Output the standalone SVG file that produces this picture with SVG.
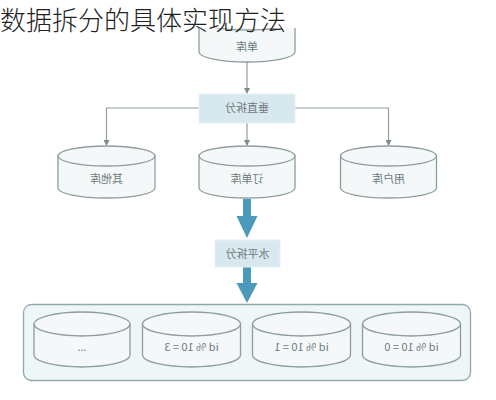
<svg xmlns="http://www.w3.org/2000/svg" width="496" height="400" viewBox="0 0 496 400">
<defs>
<style>
.cyl{fill:#f4f8f9;stroke:#8f9d9f;stroke-width:1.3}
.lbl{font-family:"Noto Sans CJK SC","Liberation Sans",sans-serif;font-size:11px;fill:#6f7a7d;text-anchor:middle}
.ln{fill:none;stroke:#8f9d9f;stroke-width:1.2}
.thick{fill:#4b9aba}
.box{fill:#d8e8ef;stroke:#e6eff3;stroke-width:1}
</style>
<marker id="ah" viewBox="0 0 6 6" refX="5" refY="3" markerWidth="6" markerHeight="6" orient="auto" markerUnits="userSpaceOnUse">
<path d="M0,0 L6,3 L0,6 z" fill="#7f8c8f"/>
</marker>
</defs>
<rect width="496" height="400" fill="#ffffff"/>

<g id="group-rect">
<rect x="23.5" y="304.5" width="447" height="76" rx="8" fill="#eef6f7" stroke="#8fa9ad" stroke-width="1.3"/>
</g>

<g id="node-top">
<path class="cyl" d="M199,20 L199,52 A48,10 0 0 0 295,52 L295,20 Z"/>
<ellipse class="cyl" cx="247" cy="20" rx="48" ry="10"/>
<text class="lbl" transform="translate(247,50.5) scale(-1,1)">单库</text>
</g>

<rect x="0" y="0" width="300" height="28" fill="#ffffff"/>
<text x="0" y="30" font-family="'Noto Sans CJK SC','Noto Sans',sans-serif" font-size="26" font-weight="300" fill="#222">数据拆分的具体实现方法</text>

<g id="connectors">
<line class="ln" x1="247" y1="62" x2="247" y2="93" marker-end="url(#ah)"/>
<polyline class="ln" points="199,108 106.5,108 106.5,145" marker-end="url(#ah)"/>
<polyline class="ln" points="295,108 388.5,108 388.5,145" marker-end="url(#ah)"/>
<line class="ln" x1="247" y1="123" x2="247" y2="145" marker-end="url(#ah)"/>
<rect class="thick" x="243" y="199" width="8" height="19"/>
<polygon class="thick" points="236.5,216 257.5,216 247,238"/>
<rect class="thick" x="243" y="267" width="8" height="18"/>
<polygon class="thick" points="236.5,283 257.5,283 247,303"/>
</g>

<g id="node-vsplit">
<rect class="box" x="199" y="94" width="96" height="29"/>
<text class="lbl" transform="translate(247,112) scale(-1,1)">垂直拆分</text>
</g>

<g id="node-other">
<path class="cyl" d="M58,156 L58,188 A48.5,10 0 0 0 155,188 L155,156 Z"/>
<ellipse class="cyl" cx="106.5" cy="156" rx="48.5" ry="10"/>
<text class="lbl" transform="translate(106.5,183) scale(-1,1)">其他库</text>
</g>

<g id="node-order">
<path class="cyl" d="M199,156 L199,188 A48,10 0 0 0 295,188 L295,156 Z"/>
<ellipse class="cyl" cx="247" cy="156" rx="48" ry="10"/>
<text class="lbl" transform="translate(247,183) scale(-1,1)">订单库</text>
</g>

<g id="node-user">
<path class="cyl" d="M340.5,156 L340.5,188 A48,10 0 0 0 436.5,188 L436.5,156 Z"/>
<ellipse class="cyl" cx="388.5" cy="156" rx="48" ry="10"/>
<text class="lbl" transform="translate(388.5,183) scale(-1,1)">用户库</text>
</g>

<g id="node-hsplit">
<rect class="box" x="215" y="240" width="65" height="27"/>
<text class="lbl" transform="translate(247.5,257.5) scale(-1,1)">水平拆分</text>
</g>

<g id="node-dots">
<path class="cyl" d="M34,324 L34,355 A48,12 0 0 0 130,355 L130,324 Z"/>
<ellipse class="cyl" cx="82" cy="324" rx="48" ry="12"/>
<text class="lbl" transform="translate(82,351) scale(-1,1)">...</text>
</g>

<g id="node-mod3">
<path class="cyl" d="M142.5,324 L142.5,355 A49,12 0 0 0 240.5,355 L240.5,324 Z"/>
<ellipse class="cyl" cx="191.5" cy="324" rx="49" ry="12"/>
<text class="lbl" transform="translate(191.5,351) scale(-1,1)">id % 10 = 3</text>
</g>

<g id="node-mod1">
<path class="cyl" d="M252.5,324 L252.5,355 A49,12 0 0 0 350.5,355 L350.5,324 Z"/>
<ellipse class="cyl" cx="301.5" cy="324" rx="49" ry="12"/>
<text class="lbl" transform="translate(301.5,351) scale(-1,1)">id % 10 = 1</text>
</g>

<g id="node-mod0">
<path class="cyl" d="M362.5,324 L362.5,355 A49,12 0 0 0 460.5,355 L460.5,324 Z"/>
<ellipse class="cyl" cx="411.5" cy="324" rx="49" ry="12"/>
<text class="lbl" transform="translate(411.5,351) scale(-1,1)">id % 10 = 0</text>
</g>
</svg>
